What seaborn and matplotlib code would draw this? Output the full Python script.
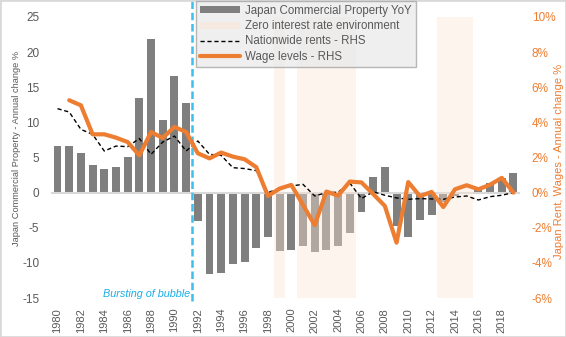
import numpy as np
import pandas as pd
import matplotlib
matplotlib.use("Agg")
import matplotlib.pyplot as plt
import seaborn as sns
from matplotlib.patches import Patch, Rectangle
from matplotlib.lines import Line2D
from matplotlib.ticker import FuncFormatter
from matplotlib.transforms import blended_transform_factory

# ---- data -------------------------------------------------------------
years = list(range(1980, 2020))

commercial_property_yoy = [
    6.7, 6.7, 5.7, 3.9, 3.4, 3.7, 5.0, 13.4, 21.9, 10.3, 16.6, 12.8,
    -4.1, -11.6, -11.4, -10.1, -9.9, -7.9, -6.3, -8.3, -8.1, -7.6, -8.4, -8.1,
    -7.6, -5.7, -2.8, 2.2, 3.7, -4.7, -6.3, -3.9, -3.2, -1.4, -0.5, -0.2,
    0.85, 1.4, 2.1, 2.75,
]

nationwide_rents = [
    4.78, 4.59, 3.60, 3.32, 2.37, 2.65, 2.62, 3.08, 2.18, 2.88, 3.22, 2.37,
    2.94, 2.18, 2.12, 1.42, 1.37, 1.25, 0.00, 0.25, 0.38, 0.47, -0.19, 0.00,
    0.02, 0.55, -0.34, 0.05, -0.15, -0.30, -0.38, -0.34, -0.36, -0.38, -0.25,
    -0.19, -0.42, -0.23, -0.15, 0.00,
]

wage_levels = [
    np.nan, 5.26, 4.97, 3.32, 3.32, 3.13, 2.88, 2.12, 3.45, 3.11, 3.74, 3.45,
    2.24, 1.95, 2.28, 2.05, 1.90, 1.45, -0.19, 0.23, 0.44, -0.70, -1.85, 0.06,
    -0.17, 0.63, 0.58, -0.08, -0.76, -2.85, 0.60, -0.20, 0.04, -0.82, 0.19,
    0.42, 0.19, 0.45, 0.84, 0.00,
]

zero_rate_periods = [(1998.5, 1999.5), (2000.5, 2005.5), (2012.5, 2015.5)]
bubble_year = 1991.5

left_ticks = [-15, -10, -5, 0, 5, 10, 15, 20, 25]
right_ticks = [-6, -4, -2, 0, 2, 4, 6, 8, 10]
year_labels = list(range(1980, 2019, 2))

# ---- styling ----------------------------------------------------------
GRAY = "#7f7f7f"
ORANGE = "#ed7d31"
PEACH = "#fbe5d6"
BLUE = "#3fbfec"
TEXT = "#595959"

sns.set_theme(style="white")
plt.rcParams["font.family"] = ["Liberation Sans", "DejaVu Sans"]

df = pd.DataFrame({
    "year": years,
    "property": commercial_property_yoy,
    "rents": nationwide_rents,
    "wages": wage_levels,
})

fig = plt.figure(figsize=(5.66, 3.37), dpi=100)
ax = fig.add_axes([0.0913, 0.1157, 0.8262, 0.8339])

sns.barplot(data=df, x="year", y="property", native_scale=True, color=GRAY,
            width=0.68, saturation=1, linewidth=0, ax=ax, zorder=2)

for start, end in zero_rate_periods:
    ax.axvspan(start, end, color=PEACH, alpha=0.4, lw=0, zorder=3)

ax.set_xlim(1979.5, 2019.5)
ax.set_ylim(-15, 25)
ax.set_yticks(left_ticks)
ax.set_yticklabels([str(t) for t in left_ticks])
ax.set_xlabel("")
ax.set_ylabel("")

# category axis drawn through zero
for side in ["top", "left", "right"]:
    ax.spines[side].set_visible(False)
ax.spines["bottom"].set_position(("data", 0))
ax.spines["bottom"].set_color("#d9d9d9")
ax.spines["bottom"].set_linewidth(1.5)
ax.spines["bottom"].set_zorder(2.5)
ax.set_xticks(np.arange(1979.5, 2020, 2))
ax.set_xticklabels([])
ax.tick_params(axis="x", direction="out", length=4, width=1, color="#d9d9d9")
ax.tick_params(axis="y", length=0, pad=9, labelsize=8.5, labelcolor=TEXT)
ax.grid(False)

trans = blended_transform_factory(ax.transData, ax.transAxes)
for yr in year_labels:
    ax.text(yr, -0.035, str(yr), rotation=90, ha="center", va="top",
            fontsize=8, color=TEXT, transform=trans)

# bubble marker
ax.axvline(bubble_year, ymin=-0.01, ymax=1.06, clip_on=False, color=BLUE,
           lw=1.8, ls=(0, (3, 1.5)), zorder=4)
ax.text(bubble_year - 0.2, 0.014, "Bursting of bubble", style="italic",
        ha="right", va="center", fontsize=7.8, color="#1aaee6", transform=trans)

# right axis: rents and wages
ax2 = ax.twinx()
sns.lineplot(data=df, x="year", y="rents", ax=ax2, color="black", lw=1,
             linestyle=(0, (3, 2)))
sns.lineplot(data=df, x="year", y="wages", ax=ax2, color=ORANGE, lw=3)
ax2.set_ylim(-6, 10)
ax2.set_yticks(right_ticks)
ax2.yaxis.set_major_formatter(FuncFormatter(lambda v, _: f"{v:.0f}%"))
ax2.set_xlabel("")
ax2.set_ylabel("")
for side in ["top", "left", "right", "bottom"]:
    ax2.spines[side].set_visible(False)
ax2.tick_params(axis="y", length=0, pad=9, labelsize=8.5, labelcolor=ORANGE)
ax2.grid(False)
ax2.set_xlim(1979.5, 2019.5)

# axis titles
fig.text(17 / 566, 1 - 148 / 337, "Japan Commercial Property - Annual change %",
         rotation=90, ha="center", va="center", fontsize=6.7, color=TEXT)
fig.text(559 / 566, 1 - 161 / 337, "Japan Rent, Wages - Annual change %",
         rotation=90, ha="center", va="center", fontsize=8, color=ORANGE)

# legend
handles = [
    Patch(facecolor=GRAY, edgecolor="none"),
    Patch(facecolor=PEACH, alpha=0.6, edgecolor="none"),
    Line2D([], [], color="black", lw=1, ls=(0, (3, 2))),
    Line2D([], [], color=ORANGE, lw=3),
]
labels = [
    "Japan Commercial Property YoY",
    "Zero interest rate environment",
    "Nationwide rents - RHS",
    "Wage levels - RHS",
]
leg = fig.legend(handles, labels, loc="upper left",
                 bbox_to_anchor=(196 / 566, 1 - 1 / 337), borderaxespad=0,
                 fontsize=8.3, frameon=True, fancybox=False, facecolor="#ebebeb",
                 edgecolor="#a6a6a6", handlelength=3.5, handleheight=0.55,
                 handletextpad=0.42, labelspacing=0.28, borderpad=0.35,
                 labelcolor=TEXT)
leg.get_frame().set_linewidth(1)

fig.patches.append(Rectangle((0, 0), 1, 1, transform=fig.transFigure,
                             fill=False, edgecolor="#d9d9d9", lw=2))

fig.savefig("out.png", dpi=100)
